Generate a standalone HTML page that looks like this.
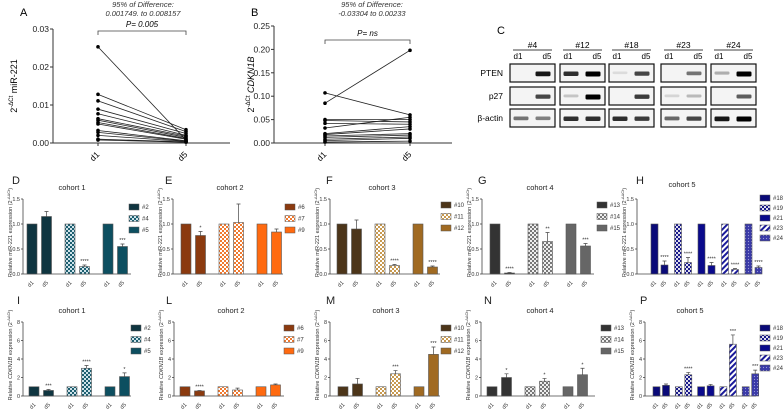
<!DOCTYPE html>
<html><head><meta charset="utf-8"><style>
body{margin:0;background:#fff}
svg{display:block;font-family:"Liberation Sans",Arial,sans-serif}
</style></head><body>
<svg id="fig" width="784" height="410" viewBox="0 0 784 410" xmlns="http://www.w3.org/2000/svg">
<defs>
<pattern id="chk-teal" width="4" height="4" patternUnits="userSpaceOnUse"><rect width="4" height="4" fill="#cfe3ea"/><rect width="2" height="2" fill="#1d5f70"/><rect x="2" y="2" width="2" height="2" fill="#1d5f70"/></pattern>
<pattern id="chk-orange" width="4" height="4" patternUnits="userSpaceOnUse"><rect width="4" height="4" fill="#fff"/><rect width="2" height="2" fill="#f07a30"/><rect x="2" y="2" width="2" height="2" fill="#f07a30"/></pattern>
<pattern id="chk-tan" width="4" height="4" patternUnits="userSpaceOnUse"><rect width="4" height="4" fill="#fff"/><rect width="2" height="2" fill="#c89a50"/><rect x="2" y="2" width="2" height="2" fill="#c89a50"/></pattern>
<pattern id="chk-gray" width="4" height="4" patternUnits="userSpaceOnUse"><rect width="4" height="4" fill="#eee"/><rect width="2" height="2" fill="#777"/><rect x="2" y="2" width="2" height="2" fill="#777"/></pattern>
<pattern id="chk-blue" width="4" height="4" patternUnits="userSpaceOnUse"><rect width="4" height="4" fill="#dde"/><rect width="2" height="2" fill="#1a1a8a"/><rect x="2" y="2" width="2" height="2" fill="#1a1a8a"/></pattern>
<pattern id="str-blue" width="4" height="4" patternUnits="userSpaceOnUse" patternTransform="rotate(45)"><rect width="4" height="4" fill="#fff"/><rect width="2" height="4" fill="#1a1a9a"/></pattern>
<pattern id="dot-blue" width="3" height="3" patternUnits="userSpaceOnUse"><rect width="3" height="3" fill="#3a3aa8"/><circle cx="1.5" cy="1.5" r="0.6" fill="#9a9ad8"/></pattern>
</defs>
<g id="root"></g>
</svg>
<script>
const NS="http://www.w3.org/2000/svg";
const root=document.getElementById('root');
function mk(tag,attrs,parent,txt){const e=document.createElementNS(NS,tag);for(const k in attrs)e.setAttribute(k,attrs[k]);if(txt!==undefined)e.textContent=txt;(parent||root).appendChild(e);return e;}

// ---- Panel A data
const aD1=[0.0253,0.0128,0.0111,0.0089,0.0077,0.0064,0.0060,0.0054,0.0050,0.0033,0.0028,0.0020,0.0010,0.0008];
const aD5=[0.0008,0.0035,0.0030,0.0025,0.0020,0.0018,0.0015,0.0012,0.0010,0.0006,0.0005,0.0004,0.0003,0.0002];
const aTicks=[0,0.01,0.02,0.03];
const aTickLabels=["0.00","0.01","0.02","0.03"];
// ---- Panel B data
const bD1=[0.107,0.085,0.050,0.048,0.042,0.032,0.020,0.018,0.015,0.012,0.008,0.005,0.002];
const bD5=[0.060,0.198,0.050,0.045,0.040,0.055,0.035,0.030,0.020,0.017,0.013,0.010,0.004];
const bTicks=[0,0.05,0.10,0.15,0.20,0.25];
const bTickLabels=["0.00","0.05","0.10","0.15","0.20","0.25"];

function paired(cfg){
  const g=mk('g',{});
  
  
  const y=v=>cfg.y0-(v/cfg.max)*(cfg.y0-cfg.yTop);
  mk('line',{x1:cfg.ax,y1:cfg.yTop,x2:cfg.ax,y2:cfg.y0,stroke:'#333','stroke-width':1},g);
  mk('line',{x1:cfg.ax,y1:cfg.y0,x2:cfg.axEnd,y2:cfg.y0,stroke:'#333','stroke-width':1},g);
  cfg.ticks.forEach((t,i)=>{const yy=y(t);mk('line',{x1:cfg.ax-3,y1:yy,x2:cfg.ax,y2:yy,stroke:'#333'},g);
    const tl=mk('text',{x:cfg.ax-4,y:yy+3,'font-size':8.5,'text-anchor':'end',fill:'#222'},g,cfg.tickLabels[i]);
    });
  cfg.d1.forEach((v,i)=>{const l=mk('line',{x1:cfg.x1,y1:y(v),x2:cfg.x2,y2:y(cfg.d5[i]),stroke:'#222','stroke-width':0.8},g);
    
    const c1=mk('circle',{cx:cfg.x1,cy:y(v),r:1.8,fill:'#000'},g);
    const c2=mk('circle',{cx:cfg.x2,cy:y(cfg.d5[i]),r:1.8,fill:'#000'},g);});
  [['d1',cfg.x1],['d5',cfg.x2]].forEach(([t,x])=>{mk('line',{x1:x,y1:cfg.y0,x2:x,y2:cfg.y0+3,stroke:'#333'},g);
    const e=mk('text',{x:x+2,y:cfg.y0+12,'font-size':8.5,'text-anchor':'end',transform:`rotate(-45 ${x+2} ${cfg.y0+12})`},g,t);
    });
  mk('path',{d:`M${cfg.x1} ${cfg.br+4}V${cfg.br}H${cfg.x2}V${cfg.br+4}`,fill:'none',stroke:'#444','stroke-width':0.8},g);
  const p=mk('text',{x:(cfg.x1+cfg.x2)/2,y:cfg.br-4,'font-size':8,'font-style':'italic','text-anchor':'middle'},g,cfg.p);
  
  const t1=mk('text',{x:cfg.tx,y:7,'font-size':7.5,'font-style':'italic','text-anchor':'middle',fill:'#333'},g,'95% of Difference:');
  
  const t2=mk('text',{x:cfg.tx,y:16,'font-size':7.5,'font-style':'italic','text-anchor':'middle',fill:'#333'},g,cfg.ci);
  
  const yl=mk('text',{x:cfg.ylx,y:(cfg.y0+cfg.yTop)/2,'font-size':9,'text-anchor':'middle',transform:`rotate(-90 ${cfg.ylx} ${(cfg.y0+cfg.yTop)/2})`},g);
  
  yl.innerHTML=cfg.ylab;
  const L=mk('text',{x:cfg.lx,y:16,'font-size':11},g,cfg.letter);
}
paired({name:'panel-a',d1:aD1,d5:aD5,max:0.03,ticks:aTicks,tickLabels:aTickLabels,ax:53,axEnd:230,yTop:29,y0:143,x1:98,x2:186,br:31,p:'P= 0.005',tx:143,ci:'0.001749. to 0.008157',ylx:17,ylab:'2<tspan font-size="6" dy="-4">-ΔCt</tspan><tspan dy="4"> miR-221</tspan>',lx:20,letter:'A'});
paired({name:'panel-b',d1:bD1,d5:bD5,max:0.25,ticks:bTicks,tickLabels:bTickLabels,ax:274,axEnd:452,yTop:26,y0:143,x1:325,x2:410,br:40,p:'P= ns',tx:372,ci:'-0.03304 to 0.00233',ylx:254,ylab:'2<tspan font-size="6" dy="-4">-ΔCt</tspan><tspan dy="4" font-style="italic"> CDKN1B</tspan>',lx:251,letter:'B'});

// ---- Panel C western blot
const blotGroups=["#4","#12","#18","#23","#24"];
const blotX=[510,560,609,661,711];
const blotRows=["PTEN","p27","β-actin"];
const blotY=[64,87,109];
const bandPTEN=[[0,0.9],[0.8,1],[0.05,0.7],[0,0.5],[0.25,1]];
const bandP27=[[0,0.7],[0.15,1],[0,0.75],[0.08,0.2],[0,0.6]];
const bandActin=[[0.5,0.45],[0.8,0.8],[0.8,0.75],[0.55,0.7],[0.9,1]];
(function(){
  const g=mk('g',{});
  const L=mk('text',{x:497,y:34,'font-size':11},g,'C');
  const bands=[bandPTEN,bandP27,bandActin];
  blotGroups.forEach((nm,i)=>{const x=blotX[i],w=45;
    const h=mk('text',{x:x+w/2,y:48,'font-size':8.5,'text-anchor':'middle'},g,nm);
    mk('line',{x1:x+3,y1:50,x2:x+w-3,y2:50,stroke:'#000','stroke-width':0.8},g);
    const a=mk('text',{x:x+8,y:59,'font-size':8,'text-anchor':'middle'},g,'d1');
    const b=mk('text',{x:x+w-8,y:59,'font-size':8,'text-anchor':'middle'},g,'d5');
    blotY.forEach((yy,r)=>{const bx=mk('rect',{x:x,y:yy,width:w,height:18,fill:'#f4f4f4',stroke:'#111','stroke-width':1.2},g);
      
      bands[r][i].forEach((v,k)=>{if(v<=0.02)return;const bw=15,cx=x+(k?w-12:11);
        const e=mk('rect',{x:cx-bw/2,y:yy+7.5,width:bw,height:2.5+v*2.5,rx:1.2,fill:'#000',opacity:Math.min(1,v*0.95+0.05)},g);
        });});});
  blotRows.forEach((r,i)=>{const t=mk('text',{x:503,y:blotY[i]+12,'font-size':8.5,'text-anchor':'end'},g,r);});
})();

// ---- Bar panels data
const samplesD=["#2","#4","#5"],d5D=[1.15,0.15,0.55],errD=[0.1,0.03,0.05],sigD=["","****","***"];
const samplesE=["#6","#7","#9"],d5E=[0.77,1.03,0.84],errE=[0.08,0.37,0.06],sigE=["*","",""];
const samplesF=["#10","#11","#12"],d5F=[0.9,0.17,0.14],errF=[0.18,0.02,0.02],sigF=["","****","****"];
const samplesG=["#13","#14","#15"],d5G=[0.02,0.65,0.56],errG=[0.01,0.18,0.05],sigG=["****","**","***"];
const samplesH=["#18","#19","#21","#23","#24"],d5H=[0.18,0.23,0.17,0.09,0.13],errH=[0.08,0.1,0.06,0.02,0.03],sigH=["****","****","****","****","****"];
const samplesI=["#2","#4","#5"],d5I=[0.6,3.0,2.1],errI=[0.1,0.3,0.4],sigI=["***","****","*"];
const samplesL=["#6","#7","#9"],d5L=[0.55,0.65,1.2],errL=[0.05,0.2,0.1],sigL=["****","",""];
const samplesM=["#10","#11","#12"],d5M=[1.3,2.4,4.5],errM=[0.6,0.35,0.8],sigM=["","***","***"];
const samplesN=["#13","#14","#15"],d5N=[2.0,1.6,2.3],errN=[0.4,0.3,0.7],sigN=["*","*","*"];
const samplesP=["#18","#19","#21","#23","#24"],d5P=[1.15,2.3,1.1,5.6,2.4],errP=[0.15,0.25,0.15,1.0,0.4],sigP=["","****","","***","***"];
const ticksTop=[0,0.5,1.0,1.5],tickLabTop=["0.0","0.5","1.0","1.5"];
const ticksBot=[0,2,4,6,8],tickLabBot=["0","2","4","6","8"];

const fills={
 c1:['#0f3540','url(#chk-teal)','#0d4f60'],
 c2:['#8b3a0f','url(#chk-orange)','#ff6a10'],
 c3:['#4c3519','url(#chk-tan)','#a06a22'],
 c4:['#333333','url(#chk-gray)','#666666'],
 c5:['#0a0a78','url(#chk-blue)','#0a0a8c','url(#str-blue)','url(#dot-blue)']
};

function barPanel(c){
  const g=mk('g',{});
  const y=v=>c.y0-(v/c.max)*(c.y0-c.yTop);
  mk('line',{x1:c.ax,y1:c.yTop,x2:c.ax,y2:c.y0,stroke:'#444','stroke-width':0.8},g);
  mk('line',{x1:c.ax,y1:c.y0,x2:c.axEnd,y2:c.y0,stroke:'#444','stroke-width':0.8},g);
  c.ticks.forEach((t,i)=>{const yy=y(t);mk('line',{x1:c.ax-2,y1:yy,x2:c.ax,y2:yy,stroke:'#444','stroke-width':0.8},g);
    const e=mk('text',{x:c.ax-3,y:yy+2,'font-size':5.5,'text-anchor':'end',fill:'#333'},g,c.tickLabels[i]);});
  c.samples.forEach((s,i)=>{const gx=c.bx+i*c.pitch;
    [[1,0,''],[c.d5[i],c.err[i],c.sig[i]]].forEach(([v,er,sg],k)=>{
      const x=gx+k*c.inner;
      const b=mk('rect',{x:x,y:y(v),width:c.bw,height:c.y0-y(v),fill:c.fills[i],stroke:'#555','stroke-width':0.6},g);
      
      if(er>0){const cx=x+c.bw/2;mk('path',{d:`M${cx} ${y(v)}V${y(v+er)}M${cx-2} ${y(v+er)}H${cx+2}`,stroke:'#444','stroke-width':0.7,fill:'none'},g);}
      if(sg){const t=mk('text',{x:x+c.bw/2,y:y(v+er)-2,'font-size':5.5,'text-anchor':'middle',fill:'#333'},g,sg);}
      const lx=x+c.bw/2+2,ly=c.y0+9;
      const t=mk('text',{x:lx,y:ly,'font-size':5.5,'text-anchor':'end',fill:'#333',transform:`rotate(-45 ${lx} ${ly})`},g,k?'d5':'d1');
      });
    const ly=c.legY+i*c.legStep;
    const lr=mk('rect',{x:c.legX,y:ly-5,width:10,height:6,fill:c.fills[i],stroke:'#555','stroke-width':0.5},g);
    
    const lt=mk('text',{x:c.legX+13,y:ly,'font-size':6,fill:'#333'},g,s);});
  const tt=mk('text',{x:c.titleX,y:c.titleY,'font-size':7.5,'text-anchor':'middle',fill:'#222'},g,c.title);
  const ym=(c.y0+c.yTop)/2-4,ylx=c.ax-11;
  const yl=mk('text',{x:ylx,y:ym,'font-size':5.5,'text-anchor':'middle',fill:'#333',transform:`rotate(-90 ${ylx} ${ym})`},g);
  
  yl.innerHTML=c.ylab;
  const L=mk('text',{x:c.lx,y:c.ly,'font-size':11,fill:'#222'},g,c.letter);
}
const ylTop='Relative miR-221 expression (2<tspan font-size="4" dy="-2">-ΔΔCt</tspan><tspan dy="2">)</tspan>';
const ylBot='Relative <tspan font-style="italic">CDKN1B</tspan> expression (2<tspan font-size="4" dy="-2">-ΔΔCt</tspan><tspan dy="2">)</tspan>';
const T={y0:274,yTop:199,max:1.5,ticks:ticksTop,tickLabels:tickLabTop,ylab:ylTop,titleY:190,ly:184};
const B={y0:396,yTop:322,max:8,ticks:ticksBot,tickLabels:tickLabBot,ylab:ylBot,titleY:313,ly:304};
function three(base,o){return Object.assign({},base,{bw:10,inner:14.5,pitch:38,legStep:11.5},o);}
function five(base,o){return Object.assign({},base,{bw:7,inner:10,pitch:23.5,legStep:10},o);}
barPanel(three(T,{name:'panel-d',samples:samplesD,d5:d5D,err:errD,sig:sigD,fills:fills.c1,ax:23,axEnd:131,bx:27,legX:129,legY:209,title:'cohort 1',titleX:72,lx:12,letter:'D'}));
barPanel(three(T,{name:'panel-e',samples:samplesE,d5:d5E,err:errE,sig:sigE,fills:fills.c2,ax:173,axEnd:283,bx:181,legX:285,legY:209,title:'cohort 2',titleX:230,lx:165,letter:'E'}));
barPanel(three(T,{name:'panel-f',samples:samplesF,d5:d5F,err:errF,sig:sigF,fills:fills.c3,ax:330,axEnd:440,bx:337,legX:441,legY:207,title:'cohort 3',titleX:382,lx:326,letter:'F'}));
barPanel(three(T,{name:'panel-g',samples:samplesG,d5:d5G,err:errG,sig:sigG,fills:fills.c4,ax:482,axEnd:594,bx:490,legX:597,legY:207,title:'cohort 4',titleX:540,lx:478,letter:'G'}));
barPanel(five(T,{name:'panel-h',samples:samplesH,d5:d5H,err:errH,sig:sigH,fills:fills.c5,ax:637,axEnd:756,bx:651,legX:760,legY:200,title:'cohort 5',titleX:682,titleY:187,lx:636,letter:'H'}));
barPanel(three(B,{name:'panel-i',samples:samplesI,d5:d5I,err:errI,sig:sigI,fills:fills.c1,ax:23,axEnd:131,bx:29,legX:131,legY:330,title:'cohort 1',titleX:72,lx:17,letter:'I'}));
barPanel(three(B,{name:'panel-l',samples:samplesL,d5:d5L,err:errL,sig:sigL,fills:fills.c2,ax:174,axEnd:284,bx:180,legX:284,legY:330,title:'cohort 2',titleX:231,lx:166,letter:'L'}));
barPanel(three(B,{name:'panel-m',samples:samplesM,d5:d5M,err:errM,sig:sigM,fills:fills.c3,ax:330,axEnd:440,bx:338,legX:441,legY:330,title:'cohort 3',titleX:386,lx:326,letter:'M'}));
barPanel(three(B,{name:'panel-n',samples:samplesN,d5:d5N,err:errN,sig:sigN,fills:fills.c4,ax:481,axEnd:595,bx:487,legX:601,legY:330,title:'cohort 4',titleX:540,lx:484,letter:'N'}));
barPanel(five(B,{name:'panel-p',samples:samplesP,d5:d5P,err:errP,sig:sigP,fills:fills.c5,ax:645,axEnd:756,bx:653,legX:760,legY:330,inner:9.5,pitch:22.3,title:'cohort 5',titleX:690,lx:640,letter:'P'}));
</script>
</body></html>
